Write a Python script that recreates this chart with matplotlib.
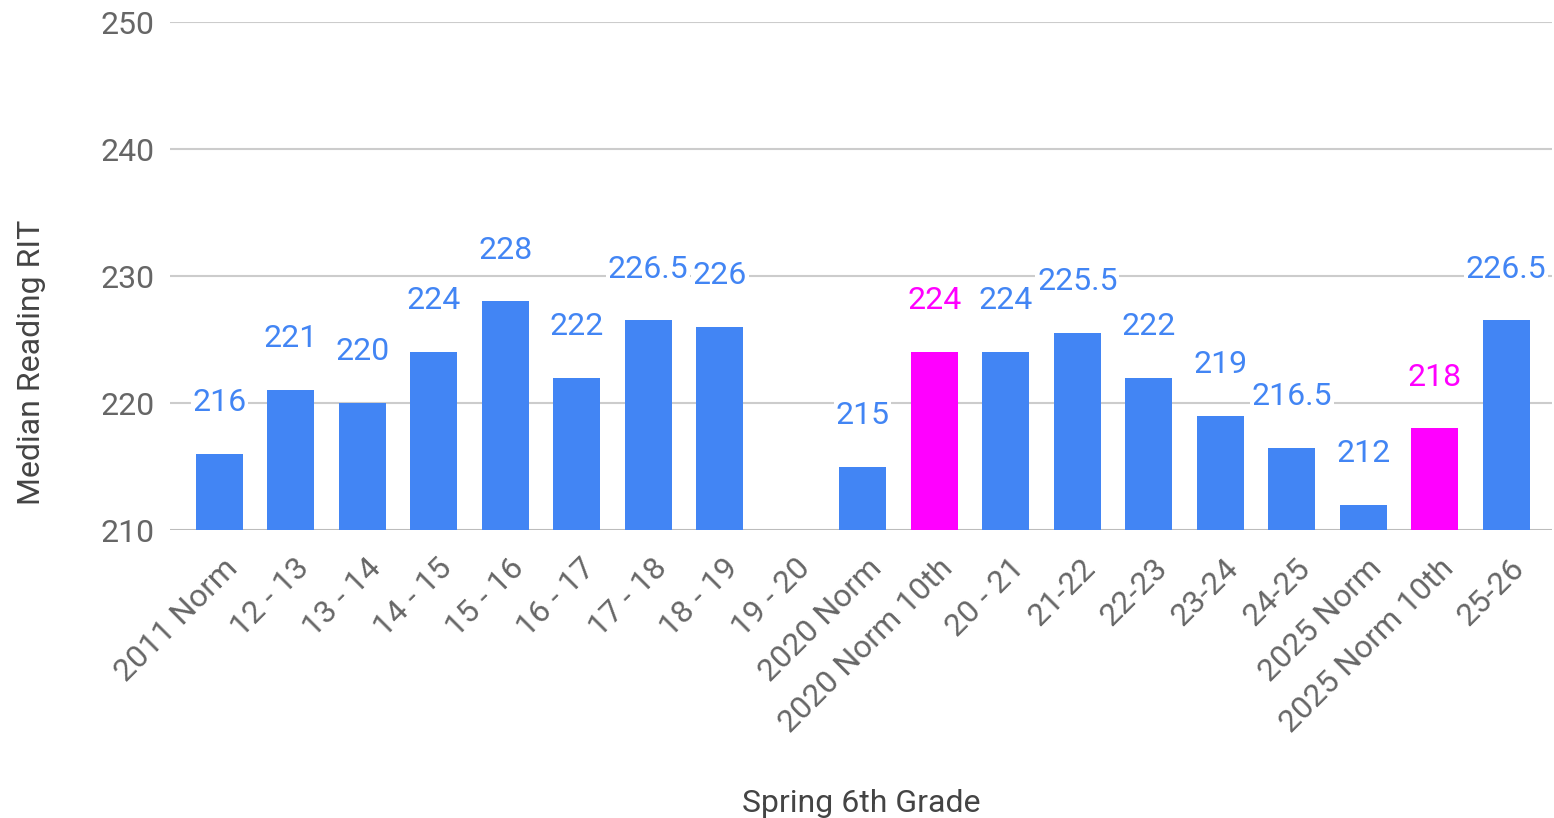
import matplotlib.pyplot as plt
from matplotlib.transforms import ScaledTranslation

plt.rcParams["font.family"] = ["Roboto", "DejaVu Sans"]

categories = ["2011 Norm", "12 - 13", "13 - 14", "14 - 15", "15 - 16", "16 - 17",
              "17 - 18", "18 - 19", "19 - 20", "2020 Norm", "2020 Norm 10th",
              "20 - 21", "21-22", "22-23", "23-24", "24-25", "2025 Norm",
              "2025 Norm 10th", "25-26"]
values = [216, 221, 220, 224, 228, 222, 226.5, 226, None, 215, 224,
          224, 225.5, 222, 219, 216.5, 212, 218, 226.5]
highlight = ["2020 Norm 10th", "2025 Norm 10th"]

blue = "#4285F4"
magenta = "#FF00FF"
gray = "#666666"

fig = plt.figure(figsize=(15.54, 8.18), dpi=100)
ax = fig.add_axes([0.1094, 0.352, 0.8893, 0.6211])

xs = list(range(len(categories)))
for x, cat, v in zip(xs, categories, values):
    if v is None:
        continue
    c = magenta if cat in highlight else blue
    ax.bar(x, v - 210, bottom=210, width=0.66, color=c, zorder=3)
    label = f"{v:g}"
    ax.annotate(label, (x, v), xytext=(0, 37), textcoords="offset points",
                ha="center", va="center", fontsize=23, color=c, zorder=4,
                bbox=dict(boxstyle="square,pad=0.05", fc="white", ec="none"))

ax.set_ylim(210, 250)
ax.set_xlim(-0.69, 18.64)
ax.set_yticks([210, 220, 230, 240, 250])
ax.grid(axis="y", color="#cccccc", linewidth=1.5, zorder=0)
ax.axhline(210, color="#bbbbbb", linewidth=2, zorder=2)
for s in ax.spines.values():
    s.set_visible(False)

ax.set_xticks(xs)
ax.set_xticklabels(categories, rotation=45, ha="right", va="center",
                   rotation_mode="anchor")
ax.tick_params(axis="both", length=0, labelsize=23, labelcolor=gray)
ax.tick_params(axis="y", pad=11)
ax.tick_params(axis="x", pad=24)
shift = ScaledTranslation(0.14, 0, fig.dpi_scale_trans)
for lab in ax.get_xticklabels():
    lab.set_transform(lab.get_transform() + shift)

ax.set_xlabel("Spring 6th Grade", fontsize=23, color="#444444")
ax.xaxis.set_label_coords(0.5, -0.51)
ax.set_ylabel("Median Reading RIT", fontsize=23, color="#444444")
ax.yaxis.set_label_coords(-0.09, 0.33)

fig.savefig("out.png", dpi=100)
